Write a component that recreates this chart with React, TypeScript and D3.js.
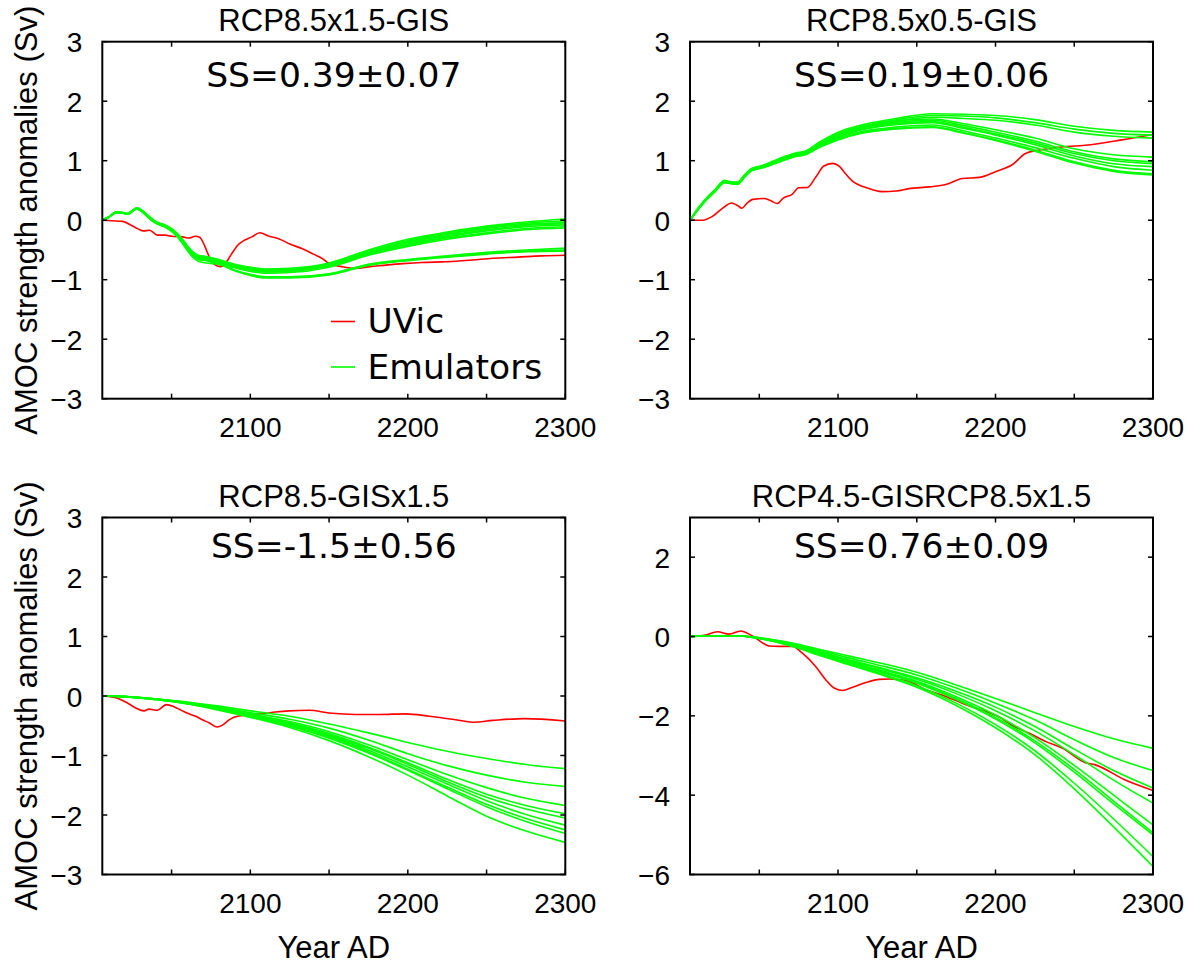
import React from 'react';
import * as d3 from 'd3';

// ---- shared axis definitions ----
const X_DOMAIN: [number, number] = [2006, 2300];
const X_TICKS = [2050, 2100, 2150, 2200, 2250, 2300];
const X_TICK_LABELS = [2100, 2200, 2300];
const Y_TICKS_SMALL = [-3, -2, -1, 0, 1, 2, 3];
const Y_TICKS_LARGE = [-6, -4, -2, 0, 2];

const TITLES = ['RCP8.5x1.5-GIS', 'RCP8.5x0.5-GIS', 'RCP8.5-GISx1.5', 'RCP4.5-GISRCP8.5x1.5'];
const SKILL = ['SS=0.39\u00B10.07', 'SS=0.19\u00B10.06', 'SS=-1.5\u00B10.56', 'SS=0.76\u00B10.09'];
const LEGEND_LABELS = ['UVic', 'Emulators'];

// ---- RCP8.5x1.5-GIS ----
const P1_YEARS = [2006, 2010, 2015, 2019, 2022, 2025, 2028, 2031, 2036, 2040, 2046, 2051, 2055, 2059, 2063, 2067, 2072, 2080, 2090, 2100, 2110, 2125, 2150, 2175, 2200, 2225, 2250, 2275, 2300];
const P1_EMULATORS = [
  [0, 0.05, 0.14, 0.13, 0.11, 0.16, 0.21, 0.17, 0.06, -0.02, -0.08, -0.16, -0.26, -0.39, -0.52, -0.59, -0.61, -0.66, -0.74, -0.79, -0.82, -0.81, -0.72, -0.50, -0.32, -0.20, -0.10, -0.03, 0.02],
  [0, 0.05, 0.14, 0.13, 0.11, 0.16, 0.21, 0.17, 0.05, -0.03, -0.09, -0.17, -0.27, -0.40, -0.53, -0.60, -0.62, -0.67, -0.75, -0.80, -0.83, -0.82, -0.73, -0.52, -0.34, -0.22, -0.12, -0.05, -0.01],
  [0, 0.05, 0.14, 0.13, 0.11, 0.16, 0.20, 0.16, 0.05, -0.03, -0.09, -0.18, -0.28, -0.41, -0.54, -0.61, -0.63, -0.68, -0.76, -0.81, -0.84, -0.83, -0.74, -0.54, -0.36, -0.24, -0.14, -0.07, -0.04],
  [0, 0.05, 0.14, 0.12, 0.11, 0.16, 0.20, 0.16, 0.04, -0.04, -0.10, -0.18, -0.29, -0.42, -0.55, -0.62, -0.64, -0.68, -0.77, -0.82, -0.85, -0.84, -0.75, -0.55, -0.38, -0.26, -0.16, -0.09, -0.06],
  [0, 0.05, 0.13, 0.12, 0.10, 0.15, 0.20, 0.16, 0.04, -0.04, -0.10, -0.19, -0.30, -0.43, -0.56, -0.63, -0.65, -0.69, -0.78, -0.83, -0.86, -0.85, -0.76, -0.56, -0.40, -0.28, -0.18, -0.11, -0.08],
  [0, 0.05, 0.13, 0.12, 0.10, 0.15, 0.20, 0.15, 0.03, -0.05, -0.11, -0.19, -0.30, -0.44, -0.57, -0.63, -0.65, -0.70, -0.79, -0.84, -0.87, -0.86, -0.77, -0.57, -0.42, -0.30, -0.21, -0.14, -0.11],
  [0, 0.05, 0.13, 0.12, 0.10, 0.15, 0.19, 0.15, 0.03, -0.05, -0.11, -0.20, -0.31, -0.45, -0.58, -0.64, -0.66, -0.71, -0.80, -0.86, -0.89, -0.88, -0.79, -0.59, -0.44, -0.32, -0.23, -0.16, -0.13],
  [0, 0.05, 0.13, 0.12, 0.10, 0.15, 0.19, 0.15, 0.03, -0.05, -0.11, -0.20, -0.32, -0.47, -0.61, -0.69, -0.72, -0.74, -0.84, -0.91, -0.95, -0.95, -0.90, -0.74, -0.66, -0.60, -0.54, -0.50, -0.47],
  [0, 0.05, 0.13, 0.12, 0.10, 0.15, 0.19, 0.15, 0.03, -0.05, -0.11, -0.20, -0.31, -0.46, -0.59, -0.65, -0.67, -0.73, -0.84, -0.92, -0.96, -0.96, -0.91, -0.75, -0.67, -0.61, -0.56, -0.52, -0.50],
  [0, 0.05, 0.13, 0.12, 0.10, 0.15, 0.19, 0.15, 0.03, -0.05, -0.12, -0.21, -0.32, -0.46, -0.60, -0.66, -0.68, -0.74, -0.85, -0.93, -0.97, -0.97, -0.92, -0.76, -0.68, -0.62, -0.57, -0.53, -0.52],
];
const P1_UVIC_YEARS = [2006, 2012, 2019, 2024, 2029, 2032, 2036, 2041, 2046, 2050, 2057, 2061, 2065, 2068, 2071, 2074, 2077, 2081, 2084, 2088, 2092, 2096, 2101, 2106, 2112, 2118, 2125, 2133, 2140, 2146, 2150, 2158, 2167, 2176, 2184, 2197, 2209, 2222, 2231, 2241, 2254, 2270, 2285, 2300];
const P1_UVIC = [0, -0.01, -0.02, -0.08, -0.15, -0.18, -0.17, -0.25, -0.25, -0.27, -0.28, -0.30, -0.27, -0.29, -0.43, -0.62, -0.74, -0.78, -0.73, -0.57, -0.42, -0.34, -0.28, -0.21, -0.27, -0.31, -0.40, -0.48, -0.57, -0.65, -0.73, -0.78, -0.81, -0.78, -0.76, -0.73, -0.71, -0.70, -0.69, -0.67, -0.64, -0.62, -0.60, -0.59];

// ---- RCP8.5x0.5-GIS ----
const P2_YEARS = [2006, 2010, 2016, 2022, 2028, 2031, 2036, 2041, 2045, 2052, 2062, 2073, 2079, 2088, 2100, 2115, 2135, 2160, 2180, 2200, 2225, 2250, 2275, 2300];
const P2_EMULATORS = [
  [0, 0.16, 0.36, 0.52, 0.67, 0.65, 0.64, 0.77, 0.87, 0.92, 1.03, 1.13, 1.16, 1.31, 1.48, 1.60, 1.70, 1.79, 1.78, 1.76, 1.69, 1.58, 1.51, 1.48],
  [0, 0.16, 0.35, 0.51, 0.66, 0.64, 0.63, 0.77, 0.86, 0.91, 1.02, 1.12, 1.15, 1.30, 1.46, 1.58, 1.68, 1.76, 1.75, 1.72, 1.64, 1.53, 1.46, 1.43],
  [0, 0.15, 0.35, 0.51, 0.66, 0.64, 0.63, 0.76, 0.86, 0.91, 1.01, 1.11, 1.14, 1.28, 1.44, 1.56, 1.66, 1.73, 1.71, 1.68, 1.60, 1.48, 1.41, 1.38],
  [0, 0.15, 0.35, 0.51, 0.66, 0.64, 0.63, 0.76, 0.86, 0.91, 1.01, 1.11, 1.14, 1.29, 1.45, 1.57, 1.66, 1.70, 1.62, 1.52, 1.38, 1.20, 1.10, 1.06],
  [0, 0.15, 0.34, 0.50, 0.65, 0.63, 0.62, 0.76, 0.85, 0.90, 1.00, 1.10, 1.13, 1.27, 1.43, 1.55, 1.64, 1.68, 1.59, 1.48, 1.33, 1.15, 1.03, 0.98],
  [0, 0.15, 0.34, 0.50, 0.65, 0.63, 0.62, 0.75, 0.85, 0.90, 1.00, 1.09, 1.12, 1.26, 1.41, 1.53, 1.62, 1.66, 1.56, 1.45, 1.30, 1.12, 1.00, 0.95],
  [0, 0.14, 0.34, 0.50, 0.64, 0.63, 0.62, 0.75, 0.84, 0.89, 0.99, 1.09, 1.12, 1.25, 1.40, 1.52, 1.60, 1.64, 1.54, 1.43, 1.27, 1.08, 0.95, 0.90],
  [0, 0.14, 0.33, 0.49, 0.64, 0.62, 0.61, 0.74, 0.84, 0.89, 0.98, 1.08, 1.11, 1.24, 1.38, 1.49, 1.56, 1.60, 1.50, 1.38, 1.22, 1.04, 0.90, 0.84],
  [0, 0.14, 0.33, 0.49, 0.63, 0.62, 0.61, 0.74, 0.83, 0.88, 0.98, 1.07, 1.10, 1.23, 1.36, 1.47, 1.54, 1.57, 1.47, 1.35, 1.18, 0.98, 0.84, 0.78],
  [0, 0.14, 0.33, 0.48, 0.63, 0.62, 0.60, 0.73, 0.83, 0.88, 0.97, 1.07, 1.10, 1.22, 1.35, 1.46, 1.53, 1.56, 1.46, 1.34, 1.16, 0.96, 0.82, 0.76],
];
const P2_UVIC_YEARS = [2006, 2014, 2020, 2026.6, 2032.5, 2036, 2039, 2042, 2046, 2053, 2057, 2061.5, 2065, 2071, 2075, 2080.6, 2086, 2091, 2096.5, 2100.7, 2105, 2109, 2117.6, 2128, 2137, 2145, 2158, 2168.5, 2179, 2190, 2200, 2211, 2219, 2228, 2238, 2257, 2280, 2300];
const P2_UVIC = [0, 0, 0.06, 0.2, 0.29, 0.25, 0.2, 0.28, 0.35, 0.365, 0.33, 0.28, 0.365, 0.44, 0.545, 0.55, 0.73, 0.91, 0.955, 0.91, 0.775, 0.66, 0.55, 0.48, 0.49, 0.53, 0.56, 0.60, 0.70, 0.72, 0.815, 0.94, 1.12, 1.18, 1.22, 1.26, 1.35, 1.44];

// ---- RCP8.5-GISx1.5 ----
const P3_YEARS = [2006, 2020, 2040, 2060, 2080, 2100, 2125, 2150, 2175, 2200, 2225, 2250, 2275, 2300];
const P3_EMULATORS = [
  [0, -0.01, -0.05, -0.10, -0.17, -0.25, -0.34, -0.47, -0.62, -0.78, -0.93, -1.05, -1.15, -1.22],
  [0, -0.01, -0.05, -0.11, -0.19, -0.28, -0.39, -0.54, -0.74, -0.97, -1.17, -1.33, -1.45, -1.52],
  [0, -0.01, -0.05, -0.11, -0.20, -0.30, -0.43, -0.60, -0.82, -1.07, -1.32, -1.54, -1.72, -1.84],
  [0, -0.01, -0.05, -0.12, -0.21, -0.31, -0.45, -0.63, -0.86, -1.12, -1.40, -1.65, -1.84, -1.98],
  [0, -0.01, -0.05, -0.12, -0.21, -0.32, -0.46, -0.65, -0.88, -1.15, -1.44, -1.70, -1.90, -2.05],
  [0, -0.01, -0.06, -0.12, -0.22, -0.33, -0.48, -0.67, -0.91, -1.19, -1.48, -1.76, -1.99, -2.17],
  [0, -0.01, -0.06, -0.13, -0.22, -0.34, -0.49, -0.69, -0.94, -1.23, -1.53, -1.82, -2.06, -2.25],
  [0, -0.01, -0.06, -0.13, -0.23, -0.35, -0.51, -0.71, -0.96, -1.25, -1.56, -1.86, -2.11, -2.31],
  [0, -0.01, -0.06, -0.13, -0.24, -0.36, -0.53, -0.75, -1.02, -1.33, -1.68, -2.02, -2.27, -2.46],
];
const P3_UVIC_YEARS = [2006, 2014.5, 2020.8, 2027.2, 2032.5, 2035.7, 2041, 2046.7, 2051.5, 2056.8, 2061, 2065.3, 2069.6, 2073.8, 2079, 2082.3, 2086.5, 2091.8, 2099.2, 2107.7, 2116, 2124.6, 2137.4, 2150, 2167, 2181.8, 2198.8, 2213.6, 2230.6, 2241, 2254, 2274, 2300];
const P3_UVIC = [0, -0.03, -0.10, -0.20, -0.25, -0.22, -0.24, -0.145, -0.18, -0.25, -0.30, -0.34, -0.40, -0.45, -0.52, -0.49, -0.40, -0.34, -0.32, -0.30, -0.27, -0.25, -0.24, -0.285, -0.31, -0.31, -0.30, -0.34, -0.40, -0.44, -0.41, -0.38, -0.42];

// ---- RCP4.5-GISRCP8.5x1.5 ----
const P4_YEARS = [2006, 2020, 2035, 2050, 2070, 2090, 2110, 2130, 2150, 2175, 2200, 2225, 2250, 2275, 2300];
const P4_EMULATORS = [
  [0, 0.02, 0.02, -0.03, -0.16, -0.34, -0.52, -0.70, -0.90, -1.22, -1.56, -1.92, -2.27, -2.58, -2.82],
  [0, 0.02, 0.02, -0.03, -0.17, -0.37, -0.57, -0.76, -0.97, -1.30, -1.68, -2.10, -2.60, -3.05, -3.38],
  [0, 0.02, 0.02, -0.04, -0.19, -0.40, -0.62, -0.82, -1.04, -1.38, -1.78, -2.27, -2.84, -3.38, -3.82],
  [0, 0.02, 0.02, -0.04, -0.20, -0.42, -0.64, -0.85, -1.08, -1.44, -1.87, -2.38, -2.98, -3.62, -4.20],
  [0, 0.02, 0.02, -0.04, -0.21, -0.44, -0.67, -0.89, -1.13, -1.52, -1.98, -2.55, -3.25, -4.00, -4.75],
  [0, 0.02, 0.02, -0.04, -0.21, -0.45, -0.68, -0.91, -1.16, -1.56, -2.04, -2.63, -3.35, -4.15, -4.95],
  [0, 0.02, 0.02, -0.05, -0.22, -0.46, -0.70, -0.93, -1.18, -1.59, -2.08, -2.68, -3.42, -4.22, -5.00],
  [0, 0.02, 0.02, -0.05, -0.23, -0.48, -0.73, -0.97, -1.24, -1.68, -2.22, -2.88, -3.70, -4.60, -5.55],
  [0, 0.02, 0.02, -0.05, -0.24, -0.50, -0.75, -1.00, -1.28, -1.74, -2.30, -2.98, -3.84, -4.80, -5.80],
];
const P4_UVIC_YEARS = [2006, 2016, 2023.4, 2030.8, 2038.2, 2041.4, 2047.7, 2056.2, 2062.6, 2071, 2077.4, 2085.9, 2092.2, 2097.5, 2102.8, 2109.2, 2117.7, 2126.1, 2132.5, 2143, 2155.8, 2168.5, 2181.2, 2193.9, 2202.4, 2210.9, 2221.5, 2232, 2242.7, 2257, 2263, 2282, 2300];
const P4_UVIC = [0, 0.04, 0.12, 0.06, 0.14, 0.10, -0.04, -0.24, -0.25, -0.25, -0.42, -0.76, -1.09, -1.30, -1.36, -1.28, -1.16, -1.08, -1.07, -1.11, -1.34, -1.51, -1.72, -1.89, -2.03, -2.25, -2.44, -2.65, -2.82, -3.18, -3.23, -3.61, -3.88];

const GREEN = '#00ff00';
const RED = '#ff0000';
const SANS = "'Liberation Sans', Arial, Helvetica, sans-serif";
const DEJAVU = "'DejaVu Sans', sans-serif";

const PANEL_W = 463;
const PANEL_H = 357;

type PanelSpec = {
  left: number;
  top: number;
  yDomain: [number, number];
  yTicks: number[];
  title: string;
  skill: string;
  skillY: number;
  years: number[];
  emulators: number[][];
  uvicYears: number[];
  uvic: number[];
  yLabel: boolean;
  xLabel: boolean;
  legend: boolean;
};

const fmt = (v: number) => String(v).replace('-', '\u2212');

function Panel({ p }: { p: PanelSpec }) {
  const x = d3.scaleLinear().domain(X_DOMAIN).range([p.left, p.left + PANEL_W]);
  const y = d3.scaleLinear().domain(p.yDomain).range([p.top + PANEL_H, p.top]);
  const line = d3
    .line<[number, number]>()
    .x((d) => x(d[0]))
    .y((d) => y(d[1]))
    .curve(d3.curveMonotoneX);
  const right = p.left + PANEL_W;
  const bottom = p.top + PANEL_H;
  const cx = p.left + PANEL_W / 2;
  const tickLen = 5;

  const uvicPts = p.uvicYears.map((yr, i) => [yr, p.uvic[i]] as [number, number]);

  return (
    <g>
      {/* model output first, emulators drawn over it */}
      <path d={line(uvicPts) || ''} fill="none" stroke={RED} strokeWidth={1.6} />
      {p.emulators.map((series, k) => (
        <path
          key={k}
          d={line(p.years.map((yr, i) => [yr, series[i]] as [number, number])) || ''}
          fill="none"
          stroke={GREEN}
          strokeWidth={1.6}
        />
      ))}

      {/* ticks on all four sides */}
      {X_TICKS.map((t) => (
        <g key={'xt' + t}>
          <line x1={x(t)} x2={x(t)} y1={bottom} y2={bottom - tickLen} stroke="#000" strokeWidth={1.5} />
          <line x1={x(t)} x2={x(t)} y1={p.top} y2={p.top + tickLen} stroke="#000" strokeWidth={1.5} />
        </g>
      ))}
      {p.yTicks.map((t) => (
        <g key={'yt' + t}>
          <line x1={p.left} x2={p.left + tickLen} y1={y(t)} y2={y(t)} stroke="#000" strokeWidth={1.5} />
          <line x1={right} x2={right - tickLen} y1={y(t)} y2={y(t)} stroke="#000" strokeWidth={1.5} />
        </g>
      ))}
      <rect x={p.left} y={p.top} width={PANEL_W} height={PANEL_H} fill="none" stroke="#000" strokeWidth={2} />

      {/* tick labels */}
      {X_TICK_LABELS.map((t) => (
        <text key={'xl' + t} x={x(t)} y={bottom + 38.5} textAnchor="middle" fontFamily={SANS} fontSize={28} fill="#000">
          {t}
        </text>
      ))}
      {p.yTicks.map((t) => (
        <text key={'yl' + t} x={p.left - 20} y={y(t) + 10.5} textAnchor="end" fontFamily={SANS} fontSize={28} fill="#000">
          {fmt(t)}
        </text>
      ))}

      <text x={cx} y={p.top - 11} textAnchor="middle" fontFamily={SANS} fontSize={31} fill="#000">
        {p.title}
      </text>
      <text x={cx} y={p.skillY} textAnchor="middle" fontFamily={DEJAVU} fontSize={34.5} fill="#000">
        {p.skill}
      </text>

      {p.yLabel && (
        <text
          transform={`translate(37,${p.top + PANEL_H / 2}) rotate(-90)`}
          textAnchor="middle"
          fontFamily={SANS}
          fontSize={31}
          fill="#000"
        >
          AMOC strength anomalies (Sv)
        </text>
      )}
      {p.xLabel && (
        <text x={cx} y={958} textAnchor="middle" fontFamily={SANS} fontSize={31} fill="#000">
          Year AD
        </text>
      )}

      {p.legend && (
        <g>
          <line x1={331} x2={355} y1={321.5} y2={321.5} stroke={RED} strokeWidth={1.6} />
          <text x={367.5} y={333} fontFamily={DEJAVU} fontSize={34.5} fill="#000">
            {LEGEND_LABELS[0]}
          </text>
          <line x1={331} x2={355} y1={367} y2={367} stroke={GREEN} strokeWidth={1.6} />
          <text x={367.5} y={378.5} fontFamily={DEJAVU} fontSize={34.5} fill="#000">
            {LEGEND_LABELS[1]}
          </text>
        </g>
      )}
    </g>
  );
}

export default function App() {
  const panels: PanelSpec[] = [
    {
      left: 102.3, top: 41.7, yDomain: [-3, 3], yTicks: Y_TICKS_SMALL, title: TITLES[0], skill: SKILL[0], skillY: 87.3,
      years: P1_YEARS, emulators: P1_EMULATORS, uvicYears: P1_UVIC_YEARS, uvic: P1_UVIC, yLabel: true, xLabel: false, legend: true,
    },
    {
      left: 690, top: 41.7, yDomain: [-3, 3], yTicks: Y_TICKS_SMALL, title: TITLES[1], skill: SKILL[1], skillY: 86.7,
      years: P2_YEARS, emulators: P2_EMULATORS, uvicYears: P2_UVIC_YEARS, uvic: P2_UVIC, yLabel: false, xLabel: false, legend: false,
    },
    {
      left: 102.3, top: 517.5, yDomain: [-3, 3], yTicks: Y_TICKS_SMALL, title: TITLES[2], skill: SKILL[2], skillY: 558,
      years: P3_YEARS, emulators: P3_EMULATORS, uvicYears: P3_UVIC_YEARS, uvic: P3_UVIC, yLabel: true, xLabel: true, legend: false,
    },
    {
      left: 690, top: 517.5, yDomain: [-6, 3], yTicks: Y_TICKS_LARGE, title: TITLES[3], skill: SKILL[3], skillY: 558,
      years: P4_YEARS, emulators: P4_EMULATORS, uvicYears: P4_UVIC_YEARS, uvic: P4_UVIC, yLabel: false, xLabel: true, legend: false,
    },
  ];

  return (
    <svg
      width={1196}
      height={964}
      viewBox="0 0 1196 964"
      style={{ position: 'absolute', left: 0, top: 0, background: '#fff' }}
    >
      <rect width={1196} height={964} fill="#fff" />
      {panels.map((p, i) => (
        <Panel key={i} p={p} />
      ))}
    </svg>
  );
}
